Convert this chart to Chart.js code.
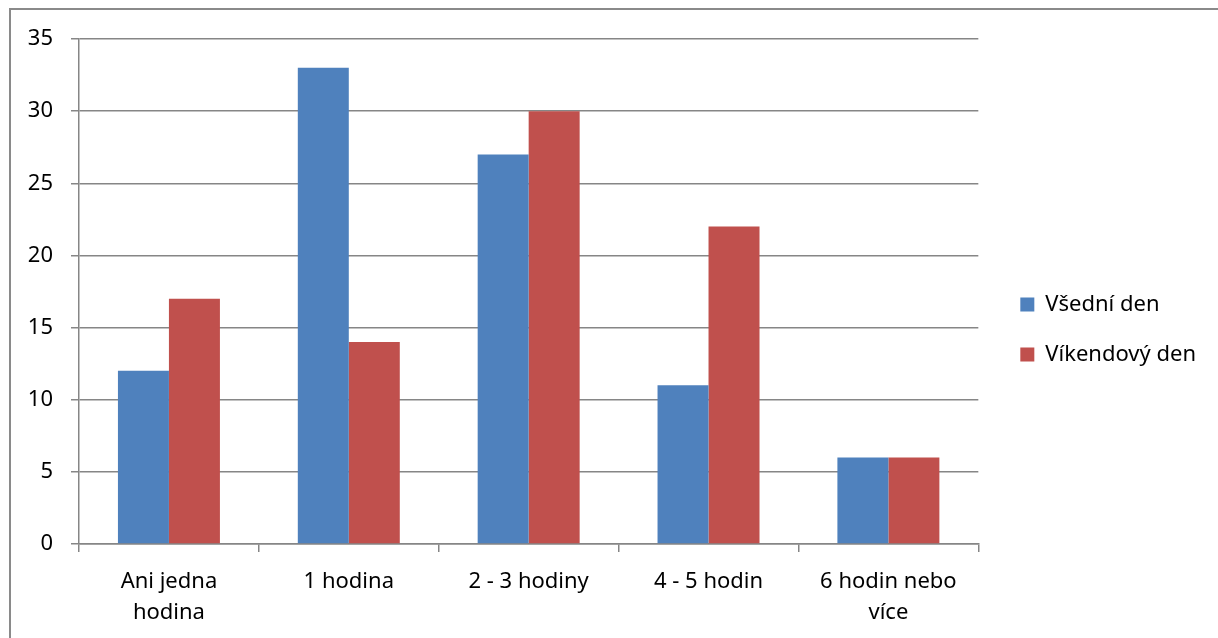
<!DOCTYPE html>
<html>
<head>
<meta charset="utf-8">
<script src="https://cdn.jsdelivr.net/npm/chart.js@4"></script>
<style>
    html, body { margin: 0; padding: 0; background: #fff; overflow: hidden; }
    #frame {
        position: absolute; left: 9px; top: 8px; width: 1400px; height: 800px;
        border: 2px solid #8a8a8a;
    }
    #wrap { position: absolute; left: 0; top: 0; width: 1218px; height: 638px; }
</style>
</head>
<body>
<div id="frame"></div>
<div id="wrap"><canvas id="chart"></canvas></div>
<script>
// Chart data
const categories = [['Ani jedna', 'hodina'], '1 hodina', '2 - 3 hodiny', '4 - 5 hodin', ['6 hodin nebo', 'více']];
const weekdayValues = [12, 33, 27, 11, 6];
const weekendValues = [17, 14, 30, 22, 6];
const seriesNames = ['Všední den', 'Víkendový den'];

const gridColor = '#868686';
const font = { family: '"Noto Sans", sans-serif', size: 22, lineHeight: 1.42 };

// Move the legend a bit away from the plot area and up a little
const legendShift = {
    id: 'legendShift',
    afterLayout(chart) {
        chart.legend.left += 14;
        chart.legend.right += 14;
        chart.legend.top -= 9;
        chart.legend.bottom -= 9;
    }
};

const canvas = document.getElementById('chart');
const chart = new Chart(canvas, {
    type: 'bar',
    data: {
        labels: categories,
        datasets: [{
            label: seriesNames[0],
            data: weekdayValues,
            backgroundColor: '#4F81BD',
        }, {
            label: seriesNames[1],
            data: weekendValues,
            backgroundColor: '#C0504D',
        }],
    },
    options: {
        responsive: true,
        maintainAspectRatio: false,
        animation: false,
        events: [],
        layout: { padding: { left: 0, top: 39, right: 26, bottom: 0 } },
        categoryPercentage: 0.567,
        barPercentage: 1,
        plugins: {
            tooltip: { enabled: false },
            legend: {
                position: 'right',
                labels: {
                    color: '#000',
                    font: { family: font.family, size: 22 },
                    boxWidth: 14,
                    boxHeight: 14,
                    padding: 28,
                },
            },
        },
        scales: {
            x: {
                grid: {
                    offset: true,
                    drawOnChartArea: false,
                    drawTicks: true,
                    tickLength: 8,
                    color: gridColor,
                    lineWidth: 1.5,
                },
                border: { color: gridColor, width: 1.5 },
                ticks: { color: '#000', font: font, padding: 14, maxRotation: 0, autoSkip: false },
                afterFit(scale) { scale.height = 94; },
            },
            y: {
                min: 0,
                max: 35,
                grid: { color: gridColor, lineWidth: 1.5, tickLength: 8 },
                border: { color: gridColor, width: 1.5 },
                ticks: { stepSize: 5, color: '#000', font: { family: font.family, size: 22 }, padding: 18 },
                afterFit(scale) { scale.width = 79; },
            },
        },
    },
    plugins: [legendShift],
});
</script>
</body>
</html>
